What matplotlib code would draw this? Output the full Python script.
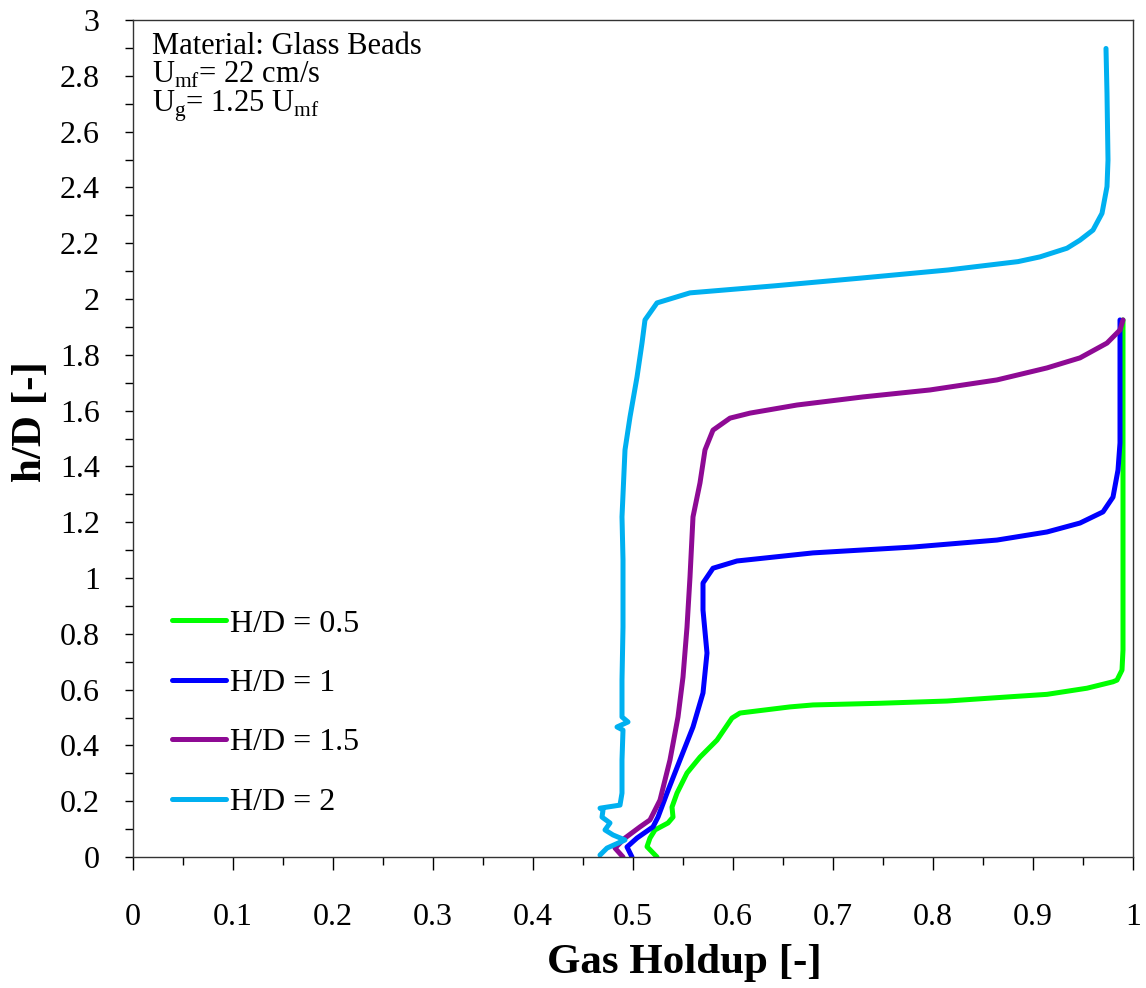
import matplotlib
matplotlib.use("Agg")
import matplotlib.pyplot as plt
from matplotlib.ticker import MultipleLocator, FuncFormatter

plt.rcParams["font.family"] = ["Liberation Serif", "DejaVu Serif"]
plt.rcParams["mathtext.fontset"] = "custom"
plt.rcParams["mathtext.rm"] = "Liberation Serif"

# gas holdup (x) vs h/D (y)
hd05_x = [0.524, 0.514, 0.517, 0.522, 0.535, 0.540, 0.539, 0.544, 0.554, 0.567,
          0.584, 0.599, 0.607, 0.657, 0.680, 0.747, 0.814, 0.880, 0.914, 0.954,
          0.980, 0.984, 0.989, 0.990, 0.990, 0.990]
hd05_y = [0.0, 0.037, 0.068, 0.097, 0.122, 0.143, 0.179, 0.229, 0.301, 0.358,
          0.419, 0.498, 0.516, 0.538, 0.545, 0.551, 0.559, 0.575, 0.583, 0.605,
          0.628, 0.634, 0.670, 0.742, 1.200, 1.925]

hd1_x = [0.499, 0.494, 0.504, 0.520, 0.525, 0.534, 0.547, 0.560, 0.570, 0.574,
         0.570, 0.570, 0.580, 0.604, 0.680, 0.780, 0.864, 0.914, 0.947, 0.970,
         0.980, 0.985, 0.987, 0.987]
hd1_y = [0.0, 0.036, 0.068, 0.108, 0.143, 0.229, 0.348, 0.466, 0.588, 0.731,
         0.885, 0.982, 1.035, 1.061, 1.090, 1.111, 1.136, 1.165, 1.197, 1.237,
         1.290, 1.387, 1.484, 1.925]

hd15_x = [0.490, 0.482, 0.492, 0.507, 0.517, 0.527, 0.537, 0.545, 0.550, 0.554,
          0.557, 0.560, 0.567, 0.572, 0.580, 0.597, 0.617, 0.664, 0.730, 0.797,
          0.864, 0.914, 0.947, 0.974, 0.987, 0.990]
hd15_y = [0.0, 0.032, 0.068, 0.108, 0.133, 0.204, 0.348, 0.502, 0.645, 0.824,
          1.004, 1.219, 1.341, 1.459, 1.530, 1.573, 1.591, 1.620, 1.649, 1.674,
          1.710, 1.753, 1.789, 1.842, 1.889, 1.925]

hd2_x = [0.467, 0.474, 0.492, 0.480, 0.472, 0.477, 0.469, 0.470, 0.467, 0.487,
         0.489, 0.489, 0.490, 0.484, 0.495, 0.489, 0.489, 0.490, 0.490, 0.489,
         0.492, 0.497, 0.504, 0.509, 0.512, 0.524, 0.557, 0.641, 0.728, 0.815,
         0.885, 0.907, 0.934, 0.947, 0.960, 0.969, 0.974, 0.975, 0.974, 0.973]
hd2_y = [0.007, 0.032, 0.061, 0.079, 0.097, 0.122, 0.143, 0.168, 0.175, 0.186,
         0.229, 0.348, 0.455, 0.466, 0.484, 0.502, 0.634, 0.824, 1.065, 1.219,
         1.459, 1.577, 1.720, 1.842, 1.925, 1.986, 2.022, 2.047, 2.075, 2.104,
         2.134, 2.151, 2.182, 2.211, 2.247, 2.307, 2.403, 2.498, 2.737, 2.898]

series = [
    ("H/D = 0.5", hd05_x, hd05_y, "#00ff00"),
    ("H/D = 1", hd1_x, hd1_y, "#0000ff"),
    ("H/D = 1.5", hd15_x, hd15_y, "#8e0a94"),
    ("H/D = 2", hd2_x, hd2_y, "#00b0f0"),
]

fig = plt.figure(figsize=(11.46, 9.88), dpi=100)
ax = fig.add_axes([133 / 1146, 1 - 857 / 988, 1000 / 1146, 837 / 988])

for label, xs, ys, color in series:
    ax.plot(xs, ys, color=color, lw=3.6, label=label,
            solid_capstyle="round", solid_joinstyle="round")

ax.set_xlim(0, 1)
ax.set_ylim(0, 3)

fmt = FuncFormatter(lambda v, pos: f"{v:g}")
ax.xaxis.set_major_locator(MultipleLocator(0.1))
ax.xaxis.set_minor_locator(MultipleLocator(0.05))
ax.yaxis.set_major_locator(MultipleLocator(0.2))
ax.yaxis.set_minor_locator(MultipleLocator(0.1))
ax.xaxis.set_major_formatter(fmt)
ax.yaxis.set_major_formatter(fmt)

ax.tick_params(axis="x", which="major", direction="out", length=9, width=1,
               pad=24, labelsize=23)
ax.tick_params(axis="x", which="minor", direction="out", length=6, width=1)
ax.tick_params(axis="y", which="both", direction="out", length=6, width=1,
               pad=18, labelsize=23)
for sp in ax.spines.values():
    sp.set_linewidth(1.0)
    sp.set_color("#333333")

ax.set_xlabel("Gas Holdup [-]", fontsize=31, fontweight="bold")
ax.set_ylabel("h/D [-]", fontsize=31, fontweight="bold")
ax.xaxis.set_label_coords(0.551, -0.104)
ax.yaxis.set_label_coords(-0.083, 0.52)

# conditions note, three tight lines as in the source
note = ["Material: Glass Beads",
        r"U$_{\mathrm{mf}}$= 22 cm/s",
        r"U$_{\mathrm{g}}$= 1.25 U$_{\mathrm{mf}}$"]
for i, line in enumerate(note):
    ax.text(0.019, 0.959 - i * 0.0345, line, transform=ax.transAxes,
            fontsize=22, va="baseline")

ax.legend(loc="upper left", bbox_to_anchor=(0.039, 0.296), frameon=False,
          fontsize=23, handlelength=1.7, handletextpad=0.1,
          labelspacing=0.94, borderpad=0, borderaxespad=0)

fig.savefig("out.png", dpi=100)
